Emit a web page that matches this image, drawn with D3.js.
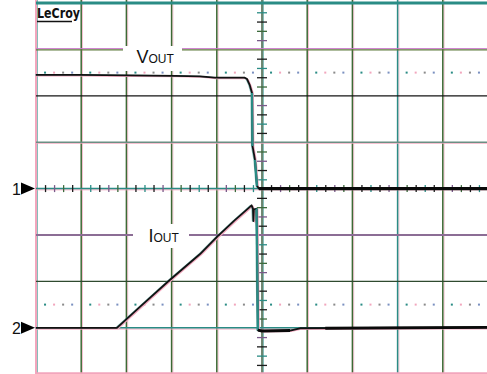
<!DOCTYPE html>
<html>
<head>
<meta charset="utf-8">
<script src="https://cdn.jsdelivr.net/npm/d3@7"></script>
<style>
  html, body { margin: 0; padding: 0; background: #fff; }
  svg { display: block; }
</style>
</head>
<body>
<script>
// Time axis in screen divisions (10 across, centre = 0), amplitudes in divisions
// relative to each channel's ground marker.
const ch1Offset = 0;     // channel 1 ground marker (divisions from centre)
const ch2Offset = -3;    // channel 2 ground marker

const voutTime = [-5.00, -4.03, -2.92, -1.92, -1.37, -1.04, -0.60, -0.38, -0.33, -0.27, -0.22, -0.21, -0.155, -0.11, -0.07, 5.00];
const voutDiv  = [ 2.45,  2.45,  2.44,  2.43,  2.42,  2.39,  2.39,  2.39,  2.36,  2.23,  2.06,  0.92,  0.62,   0.06,  0.00, 0.00];

const ioutTime = [-5.00, -3.21, -2.70, -2.04, -1.37, -0.996, -0.60, -0.38, -0.23, -0.20, -0.19, -0.18, -0.12, -0.11, -0.09, 0.00, 0.62, 0.84, 4.98];
const ioutDiv  = [ 0.00,  0.00,  0.45,  1.03,  1.59,  1.96,   2.32,  2.51,  2.64,  2.57,  2.30,  2.55,  2.57,  1.89, -0.05, -0.07, -0.06, -0.01, 0.01];

const refLevels = [2.5, -2.5];          // dotted reference rows
const gridCols = d3.range(-5, 5.01, 1);  // vertical graticule
const gridRows = d3.range(-4, 4.01, 1);  // horizontal graticule
const minorT = d3.range(-5, 5.001, 0.2);
const minorV = d3.range(-4, 4.001, 0.2);

const W = 487, H = 374;
const svg = d3.select("body").append("svg").attr("width", W).attr("height", H);

const x = d3.scaleLinear().domain([-5, 5]).range([36, 488]);
const y = d3.scaleLinear().domain([-4, 4]).range([374.2, 3]);

const TEAL = "#2a8c85", PINK = "#f2a6bd", GREEN = "#3d6a35";

// ---- vertical graticule lines ----
const vStyle = t => {
  if (t === -5) return { c: PINK, w: 2, f: TEAL };
  if (t === 0) return { c: "#4d6b50", w: 1.6, f: TEAL };
  if (t === 3) return { c: TEAL, w: 1.5, f: PINK };
  return { c: GREEN, w: 1.5, f: PINK };
};
const gV = svg.append("g");
gridCols.forEach(t => {
  const s = vStyle(t);
  gV.append("line").attr("x1", x(t) + 1.3).attr("x2", x(t) + 1.3).attr("y1", 0).attr("y2", H)
    .attr("stroke", s.f).attr("stroke-width", 1).attr("opacity", 0.7);
  gV.append("line").attr("x1", x(t)).attr("x2", x(t)).attr("y1", 0).attr("y2", H)
    .attr("stroke", s.c).attr("stroke-width", s.w);
});

// ---- horizontal graticule lines ----
const hStyle = {
  "4":  [{ c: TEAL, w: 3, o: 0 }],
  "3":  [{ c: "#cc7acc", w: 1, o: -0.8 }, { c: "#5e7a3c", w: 1.2, o: 0.4 }],
  "2":  [{ c: "#151515", w: 1.2, o: 0 }],
  "1":  [{ c: PINK, w: 1, o: 1 }, { c: "#6b8f83", w: 1.4, o: 0 }],
  "0":  [{ c: PINK, w: 1, o: 1.2 }, { c: TEAL, w: 1.5, o: 0 }],
  "-1": [{ c: "#8c6d95", w: 1.8, o: 0 }],
  "-2": [{ c: "#2f4a2f", w: 1.4, o: 0 }],
  "-3": [{ c: PINK, w: 1, o: 1.2 }, { c: TEAL, w: 1.5, o: 0 }],
  "-4": [{ c: PINK, w: 2, o: -1 }]
};
const gH = svg.append("g");
gridRows.forEach(v => {
  hStyle[String(v)].forEach(s => {
    gH.append("line").attr("x1", 36).attr("x2", W).attr("y1", y(v) + s.o).attr("y2", y(v) + s.o)
      .attr("stroke", s.c).attr("stroke-width", s.w);
  });
});

// ---- minor ticks on the centre cross, drawn with d3 axes ----
const tickColors = ["#1c1c1c", TEAL, "#1c1c1c", "#7a5a8a", "#3d6b3d"];
const axV = svg.append("g").attr("transform", `translate(${x(0) - 5},0)`)
  .call(d3.axisRight(y).tickValues(minorV.filter(v => Math.abs(v - Math.round(v)) > 1e-6)).tickSize(10).tickFormat(""));
axV.select(".domain").remove();
axV.selectAll(".tick line").attr("stroke", (d, i) => tickColors[i % 5]).attr("stroke-width", 1.3);

const axH = svg.append("g").attr("transform", `translate(0,${y(0) - 3.5})`)
  .call(d3.axisBottom(x).tickValues(minorT.filter(t => Math.abs(t - Math.round(t)) > 1e-6)).tickSize(7).tickFormat(""));
axH.select(".domain").remove();
axH.selectAll(".tick line").attr("stroke", (d, i) => tickColors[(i + 2) % 5]).attr("stroke-width", 1.3);

// ---- dotted reference rows ----
const dotColors = [TEAL, PINK, "#8a8a8a", "#7a90c0"];
const gD = svg.append("g");
refLevels.forEach(lv => {
  minorT.filter(t => Math.abs(t - Math.round(t)) > 1e-6).forEach((t, i) => {
    gD.append("rect").attr("x", x(t) - 1).attr("y", y(lv) - 1).attr("width", 2).attr("height", 2)
      .attr("fill", dotColors[i % 4]);
  });
});

// ---- label boxes ----
svg.append("rect").attr("x", 123).attr("y", 46).attr("width", 59).attr("height", 25).attr("fill", "#fff");
svg.append("rect").attr("x", 133).attr("y", 224).attr("width", 56).attr("height", 24).attr("fill", "#fff");

// ---- traces ----
const line = d3.line().x(d => x(d[0])).y(d => y(d[1]));
const vout = voutTime.map((t, i) => [t, voutDiv[i] + ch1Offset]);
const iout = ioutTime.map((t, i) => [t, ioutDiv[i] + ch2Offset]);

function drawTrace(pts) {
  const g = svg.append("g").attr("fill", "none").attr("stroke-linejoin", "round");
  g.append("path").attr("d", line(pts)).attr("stroke", PINK).attr("stroke-width", 1.4)
    .attr("transform", "translate(1.2,0.8)");
  g.append("path").attr("d", line(pts)).attr("stroke", TEAL).attr("stroke-width", 1.2)
    .attr("opacity", 0.6).attr("transform", "translate(-1,0)");
  g.append("path").attr("d", line(pts)).attr("stroke", "#111").attr("stroke-width", 1.8);
  // steep edges show up in the teal phosphor colour
  for (let i = 1; i < pts.length; i++) {
    const dx = Math.abs(x(pts[i][0]) - x(pts[i - 1][0]));
    const dy = Math.abs(y(pts[i][1]) - y(pts[i - 1][1]));
    if (dy > 20 && dy > dx * 4) {
      g.append("path").attr("d", line([pts[i - 1], pts[i]])).attr("stroke", TEAL).attr("stroke-width", 2.2);
    }
  }
  return g;
}
drawTrace(vout);
drawTrace(iout);

// heavy flat sections after the edge
svg.append("path").attr("fill", "none").attr("stroke", "#0a0a0a").attr("stroke-width", 3.2)
  .attr("d", line(vout.filter(d => d[0] >= -0.07)));
svg.append("path").attr("fill", "none").attr("stroke", "#0a0a0a").attr("stroke-width", 3)
  .attr("d", line(iout.filter(d => d[0] >= -0.09 && d[0] <= 0.62)));
svg.append("path").attr("fill", "none").attr("stroke", "#0a0a0a").attr("stroke-width", 2.8)
  .attr("d", line([[1.4, -3.01], [4.98, -2.99]]));

// ---- channel labels ----
const lab = svg.append("g").attr("font-family", "Liberation Sans, Arial, sans-serif").attr("fill", "#111");
const vl = lab.append("text").attr("x", 136.5).attr("y", 63);
vl.append("tspan").attr("font-size", 18).text("V");
vl.append("tspan").attr("font-size", 12).text("OUT");
const il = lab.append("text").attr("x", 148.5).attr("y", 242);
il.append("tspan").attr("font-size", 18).text("I");
il.append("tspan").attr("font-size", 12).text("OUT");

// ---- ground markers ----
[[1, ch1Offset], [2, ch2Offset]].forEach(([n, off]) => {
  const yy = y(off);
  lab.append("text").attr("x", 21).attr("y", yy + 6).attr("text-anchor", "end")
    .attr("font-size", 16).text(n);
  lab.append("path").attr("d", `M21,${yy - 6}L35,${yy}L21,${yy + 6}Z`).attr("fill", "#000");
});

// ---- brand mark ----
lab.append("text").attr("x", 37).attr("y", 17.5).attr("font-size", 14).attr("font-weight", "bold")
  .attr("font-family", "DejaVu Sans, sans-serif")
  .attr("textLength", 43).attr("lengthAdjust", "spacingAndGlyphs").text("LeCroy");
lab.append("line").attr("x1", 37).attr("x2", 72).attr("y1", 21.5).attr("y2", 21.5)
  .attr("stroke", "#111").attr("stroke-width", 1.6);
</script>
</body>
</html>
